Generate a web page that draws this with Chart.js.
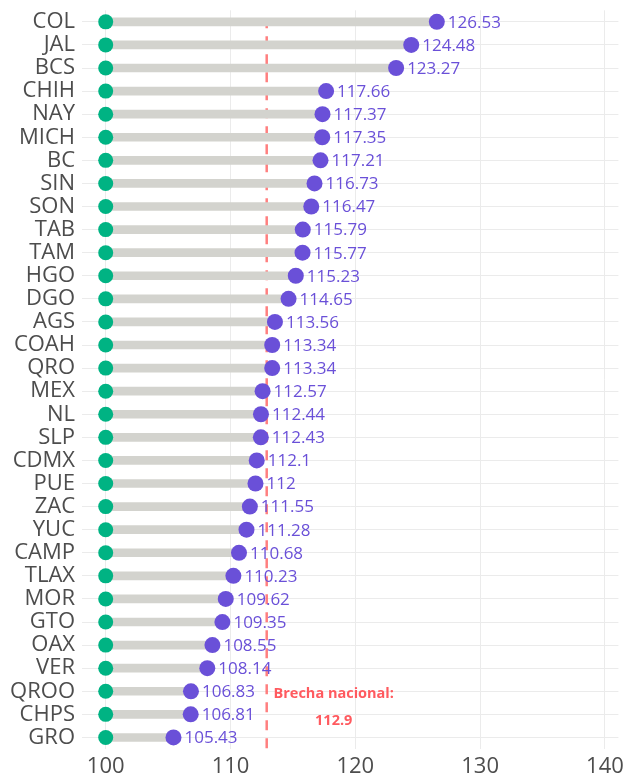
<!DOCTYPE html>
<html>
<head>
<meta charset="utf-8">
<script src="https://cdn.jsdelivr.net/npm/chart.js@4/dist/chart.umd.min.js"></script>
<style>
  html, body { margin: 0; padding: 0; background: #fff; }
  #wrap { width: 629px; height: 774px; }
</style>
</head>
<body>
<div id="wrap"><canvas id="myChart"></canvas></div>
<script>
const estados = ["COL", "JAL", "BCS", "CHIH", "NAY", "MICH", "BC", "SIN", "SON", "TAB", "TAM", "HGO",
  "DGO", "AGS", "COAH", "QRO", "MEX", "NL", "SLP", "CDMX", "PUE", "ZAC", "YUC", "CAMP",
  "TLAX", "MOR", "GTO", "OAX", "VER", "QROO", "CHPS", "GRO"];
const brecha = [126.53, 124.48, 123.27, 117.66, 117.37, 117.35, 117.21, 116.73, 116.47, 115.79, 115.77, 115.23,
  114.65, 113.56, 113.34, 113.34, 112.57, 112.44, 112.43, 112.1, 112, 111.55, 111.28, 110.68,
  110.23, 109.62, 109.35, 108.55, 108.14, 106.83, 106.81, 105.43];
const base = estados.map(() => 100);
const nacional = 112.9;
const xTicks = [100, 110, 120, 130, 140];

const FONT = "'Open Sans', 'DejaVu Sans', sans-serif";
const purple = "#6a50d8";
const green = "#00b383";

// etiquetas con el valor junto a cada punto morado
const valueLabels = {
  id: "valueLabels",
  afterDatasetsDraw(chart) {
    const ctx = chart.ctx;
    const meta = chart.getDatasetMeta(2);
    ctx.save();
    ctx.font = "17px " + FONT;
    ctx.fillStyle = purple;
    ctx.textAlign = "left";
    ctx.textBaseline = "middle";
    meta.data.forEach((pt, i) => {
      ctx.fillText(String(brecha[i]), pt.x + 11, pt.y + 1);
    });
    ctx.restore();
  }
};

// linea punteada de la brecha nacional
const nationalLine = {
  id: "nationalLine",
  beforeDatasetsDraw(chart) {
    const ctx = chart.ctx;
    const x = chart.scales.x.getPixelForValue(nacional);
    const a = chart.chartArea;
    ctx.save();
    ctx.strokeStyle = "rgba(255, 95, 95, 0.8)";
    ctx.lineWidth = 2.5;
    ctx.setLineDash([10, 8]);
    ctx.beginPath();
    ctx.moveTo(x, a.top + 8);
    ctx.lineTo(x, a.bottom);
    ctx.stroke();
    ctx.restore();
  },
  afterDatasetsDraw(chart) {
    const ctx = chart.ctx;
    const x = chart.scales.x.getPixelForValue(nacional);
    const y = chart.scales.y.getPixelForValue(estados.length - 3);
    ctx.save();
    ctx.font = "bold 14.5px " + FONT;
    ctx.fillStyle = "#ff5a5f";
    ctx.textAlign = "center";
    ctx.textBaseline = "middle";
    ctx.fillText("Brecha nacional:", x + 67, y + 3);
    ctx.fillText(String(nacional), x + 67, y + 30);
    ctx.restore();
  }
};

new Chart(document.getElementById("myChart"), {
  type: "bar",
  data: {
    labels: estados,
    datasets: [
      {
        type: "bar",
        data: brecha.map((v, i) => [base[i], v]),
        backgroundColor: "#d3d3ce",
        barThickness: 8,
        borderWidth: 0,
        order: 3
      },
      {
        type: "line",
        data: base,
        showLine: false,
        pointRadius: 7.5,
        pointHoverRadius: 7.5,
        pointBackgroundColor: green,
        pointBorderWidth: 0,
        order: 2
      },
      {
        type: "line",
        data: brecha,
        showLine: false,
        pointRadius: 8,
        pointHoverRadius: 8,
        pointBackgroundColor: purple,
        pointBorderWidth: 0,
        order: 1
      }
    ]
  },
  options: {
    indexAxis: "y",
    responsive: true,
    maintainAspectRatio: false,
    animation: false,
    layout: { padding: { top: 3, right: 0, left: 0, bottom: 0 } },
    plugins: {
      legend: { display: false },
      tooltip: { enabled: false }
    },
    scales: {
      x: {
        type: "linear",
        min: 98.1,
        max: 141.08,
        afterBuildTicks: (s) => { s.ticks = xTicks.map(v => ({ value: v })); },
        afterFit: (s) => { s.height = 25; },
        border: { display: false },
        grid: { color: "#ebebeb", lineWidth: 1, drawTicks: false },
        ticks: { color: "#4d4d4d", font: { family: FONT, size: 22 }, padding: 5, maxRotation: 0 }
      },
      y: {
        type: "category",
        afterFit: (s) => { s.width = 82; },
        border: { display: false },
        grid: { color: "#ebebeb", lineWidth: 1, drawTicks: false, offset: false },
        ticks: { color: "#4d4d4d", font: { family: FONT, size: 22, lineHeight: 0.3 }, padding: 7, autoSkip: false }
      }
    }
  },
  plugins: [nationalLine, valueLabels]
});
</script>
</body>
</html>
